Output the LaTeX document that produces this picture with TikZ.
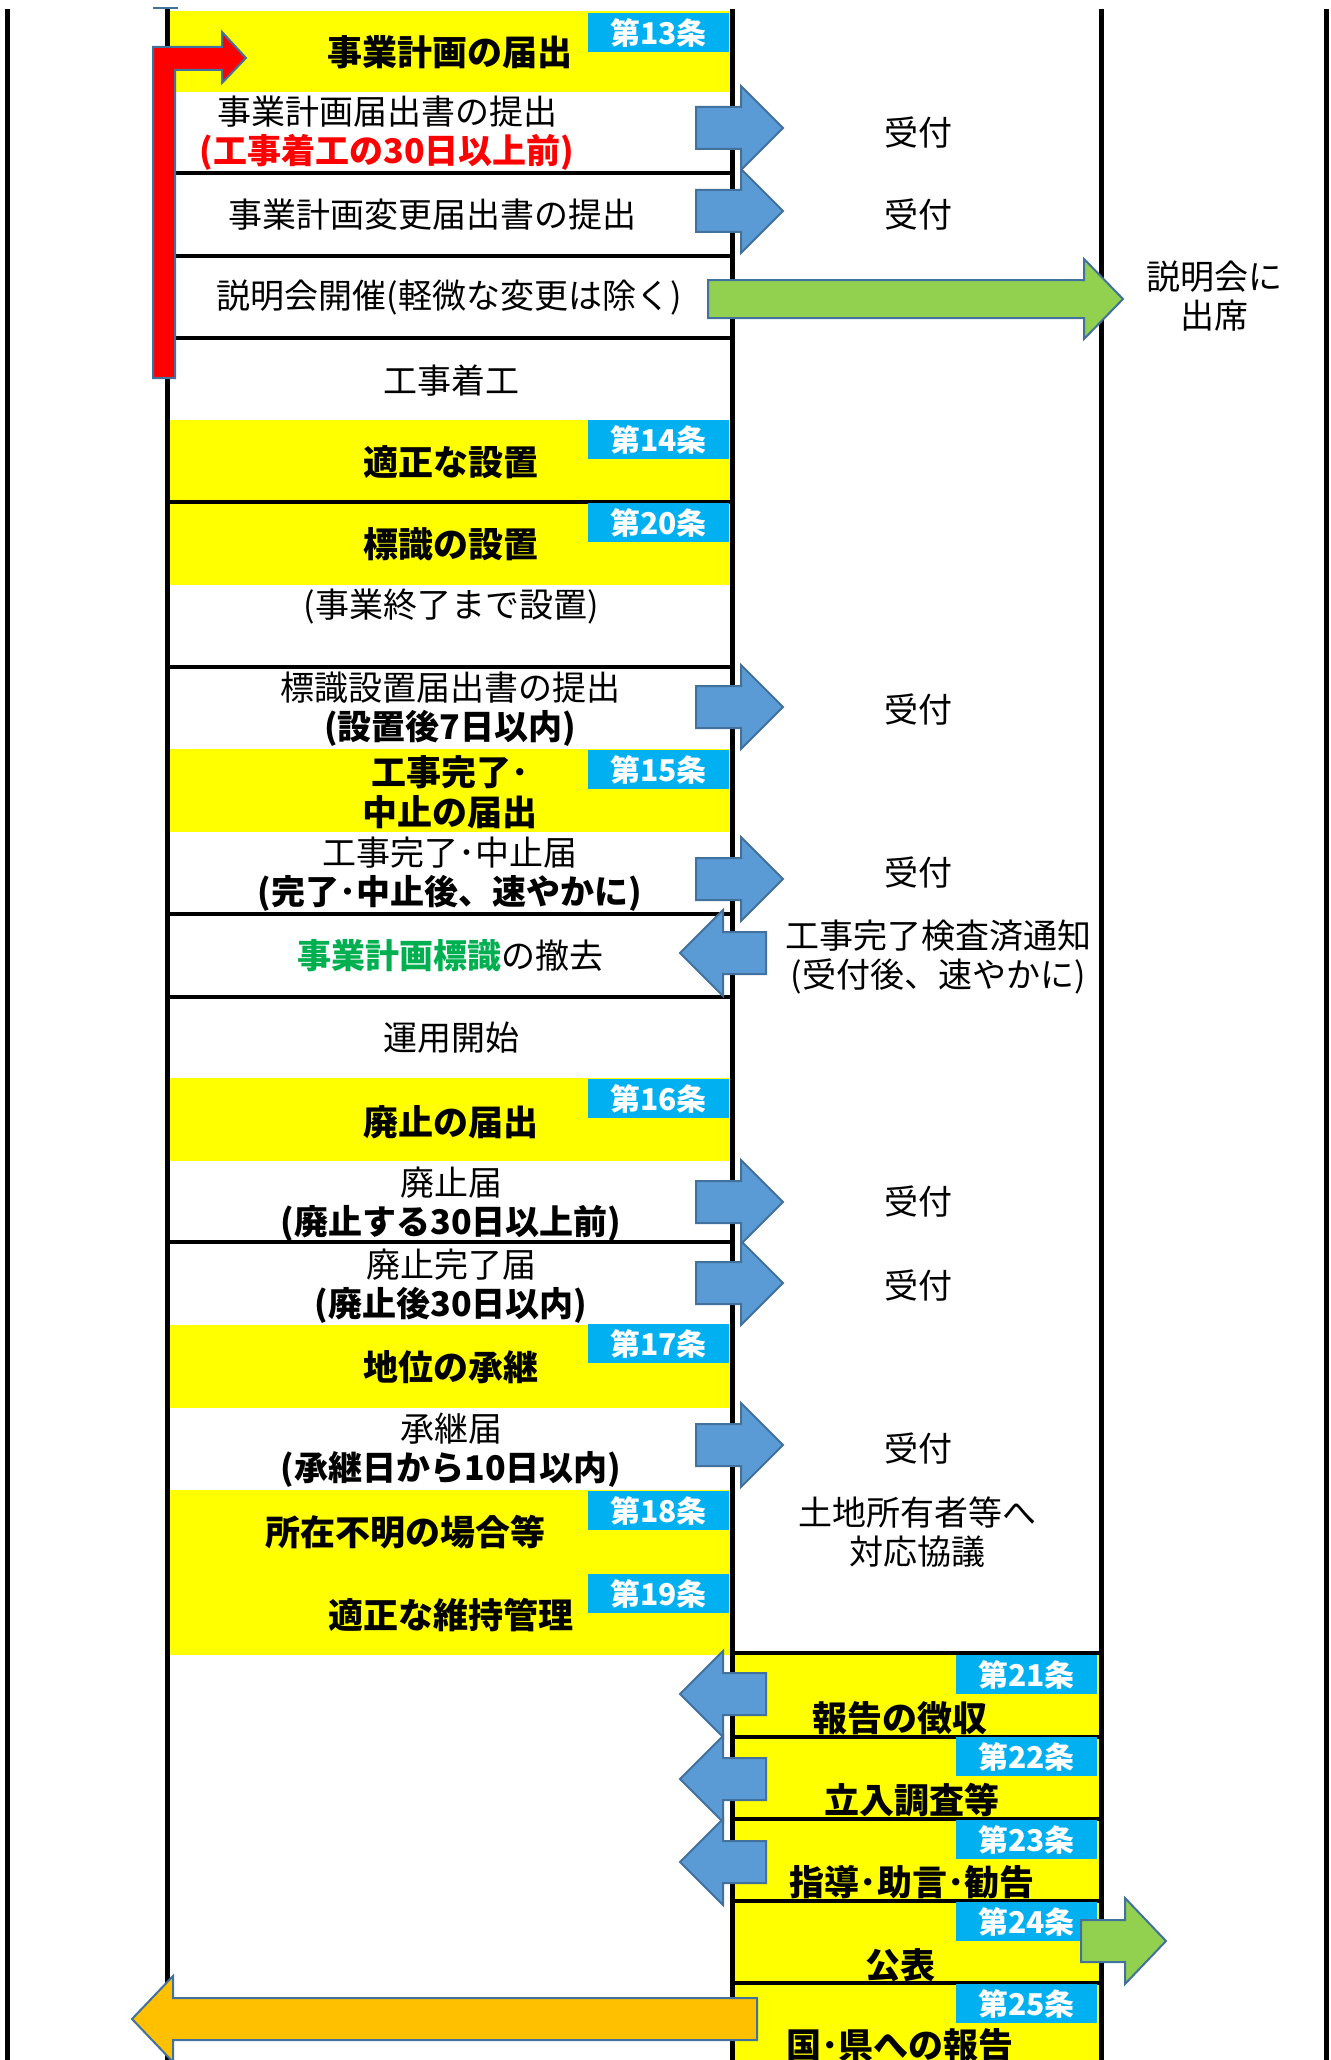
\documentclass[tikz,border=0pt]{standalone}
\usepackage{fontspec}
\setmainfont{Noto Sans CJK JP}
\definecolor{bandyellow}{HTML}{FFFF00}
\definecolor{tagblue}{HTML}{00B0F0}
\definecolor{arrowblue}{HTML}{5B9BD5}
\definecolor{edgeblue}{HTML}{41719C}
\definecolor{arrowgreen}{HTML}{92D050}
\definecolor{arroworange}{HTML}{FFC000}
\definecolor{textgreen}{HTML}{00B050}
\definecolor{textred}{HTML}{FF0000}
% style, tail x, head base x, tip x, centre y, shaft half, head half
\newcommand{\blockarrow}[7]{%
  \draw[#1] (#2,#5-#6) -- (#3,#5-#6) -- (#3,#5-#7) -- (#4,#5)
    -- (#3,#5+#7) -- (#3,#5+#6) -- (#2,#5+#6) -- cycle;}

\begin{document}
\begin{tikzpicture}
  [x=1pt, y=-1pt,
   every node/.style={align=center, inner sep=0pt, font=\fontsize{34}{39}\selectfont},
   hd/.style={font=\bfseries\fontsize{35}{40}\selectfont},
   tag/.style={fill=tagblue, text=white, font=\bfseries\fontsize{30}{30}\selectfont,
     minimum width=141pt, minimum height=39pt, anchor=north east},
   rule/.style={line width=5pt},
   sep/.style={line width=3.5pt},
   blk/.style={draw=edgeblue, line width=2pt, fill=arrowblue},
   grn/.style={draw=edgeblue, line width=2pt, fill=arrowgreen},
   org/.style={draw=edgeblue, line width=2pt, fill=arroworange},
   red/.style={draw=edgeblue, line width=2pt, fill=textred}]
  \useasboundingbox (0,0) rectangle (1330,2060);
  \clip (0,0) rectangle (1330,2060);
  \fill[white] (0,0) rectangle (1330,2060);

  \fill[bandyellow] (167,11) rectangle (732,92);
  \fill[bandyellow] (167,420) rectangle (732,585);
  \fill[bandyellow] (167,749) rectangle (732,832);
  \fill[bandyellow] (167,1078) rectangle (732,1161);
  \fill[bandyellow] (167,1325) rectangle (732,1408);
  \fill[bandyellow] (167,1490) rectangle (732,1655);
  \fill[bandyellow] (732,1653) rectangle (1101,2060);

  \foreach \x in {7,167,732,1101,1326}
    \draw[rule] (\x,9) -- (\x,2060);
  \foreach \y in {173,256,338,502,667,914,997,1242}
    \draw[sep] (167,\y) -- (732,\y);
  \foreach \y in {1653,1737,1819,1901,1983}
    \draw[sep] (732,\y) -- (1101,\y);

  \node[tag] (a13) at (729,13) {第13条};
  \node[tag] (a14) at (729,420) {第14条};
  \node[tag] (a20) at (729,503) {第20条};
  \node[tag] (a15) at (729,750) {第15条};
  \node[tag] (a16) at (729,1079) {第16条};
  \node[tag] (a17) at (729,1324) {第17条};
  \node[tag] (a18) at (729,1491) {第18条};
  \node[tag] (a19) at (729,1574) {第19条};
  \node[tag] (a21) at (1097,1655) {第21条};
  \node[tag] (a22) at (1097,1737) {第22条};
  \node[tag] (a23) at (1097,1820) {第23条};
  \node[tag] (a24) at (1097,1902) {第24条};
  \node[tag] (a25) at (1097,1984) {第25条};

  \node[hd] (plan) at (450,52) {事業計画の届出};
  \node (plandoc) at (387,133.5) {事業計画届出書の提出\\{\color{textred}\bfseries (工事着工の30日以上前)}};
  \node (change) at (432,215) {事業計画変更届出書の提出};
  \node (briefing) at (449,298) {説明会開催(軽微な変更は除く)};
  \node (start) at (451,381) {工事着工};
  \node[hd] (proper) at (451,462) {適正な設置};
  \node[hd] (sign) at (451,544) {標識の設置};
  \node (signkeep) at (451,607) {(事業終了まで設置)};
  \node (signdoc) at (450,709.5) {標識設置届出書の提出\\\textbf{(設置後7日以内)}};
  \node[hd] (finish) at (450,792) {工事完了･\\中止の届出};
  \node (finishdoc) at (450,874.5) {工事完了･中止届\\\textbf{(完了･中止後、速やかに)}};
  \node (remove) at (450,956) {{\color{textgreen}\bfseries 事業計画標識}の撤去};
  \node (operate) at (451,1038) {運用開始};
  \node[hd] (abolish) at (451,1122) {廃止の届出};
  \node (abolishdoc) at (451,1204) {廃止届\\\textbf{(廃止する30日以上前)}};
  \node (abolishend) at (451,1286.5) {廃止完了届\\\textbf{(廃止後30日以内)}};
  \node[hd] (succeed) at (451,1367) {地位の承継};
  \node (succeeddoc) at (451,1450) {承継届\\\textbf{(承継日から10日以内)}};
  \node[hd] (unknown) at (405,1532) {所在不明の場合等};
  \node[hd] (maintain) at (451,1615) {適正な維持管理};

  \node (rcv1) at (918,133) {受付};
  \node (rcv2) at (918,215) {受付};
  \node (attend) at (1214,296.5) {説明会に\\出席};
  \node (rcv3) at (918,710) {受付};
  \node (rcv4) at (918,873) {受付};
  \node (notice) at (938,957.5) {工事完了検査済通知\\(受付後、速やかに)};
  \node (rcv5) at (918,1202) {受付};
  \node (rcv6) at (918,1286) {受付};
  \node (rcv7) at (918,1449) {受付};
  \node (owner) at (917,1532) {土地所有者等へ\\対応協議};
  \node[hd] (report) at (900,1718) {報告の徴収};
  \node[hd] (inspect) at (912,1800) {立入調査等};
  \node[hd] (guide) at (912,1882) {指導･助言･勧告};
  \node[hd] (publish) at (900,1965) {公表};
  \node[hd] (nation) at (900,2045) {国･県への報告};

  \foreach \y in {128,211,707,879,1202,1283,1445}
    {\blockarrow{blk}{696}{741}{783}{\y}{21}{42}}
  \foreach \y in {953,1694,1779,1862}
    {\blockarrow{blk}{766}{723}{680}{\y}{21}{43}}
  \blockarrow{grn}{708}{1084}{1123}{299}{19}{40}
  \blockarrow{grn}{1081}{1125}{1166}{1941}{21}{43}
  \blockarrow{org}{757}{173}{132}{2019}{21}{43}
  \draw[red] (153,378) -- (153,47) -- (222,47) -- (222,32) -- (246,58)
    -- (222,83) -- (222,70) -- (175,70) -- (175,378) -- cycle;
  \draw[edgeblue, line width=1.5pt] (153,8) -- (178,8);
\end{tikzpicture}
\end{document}
